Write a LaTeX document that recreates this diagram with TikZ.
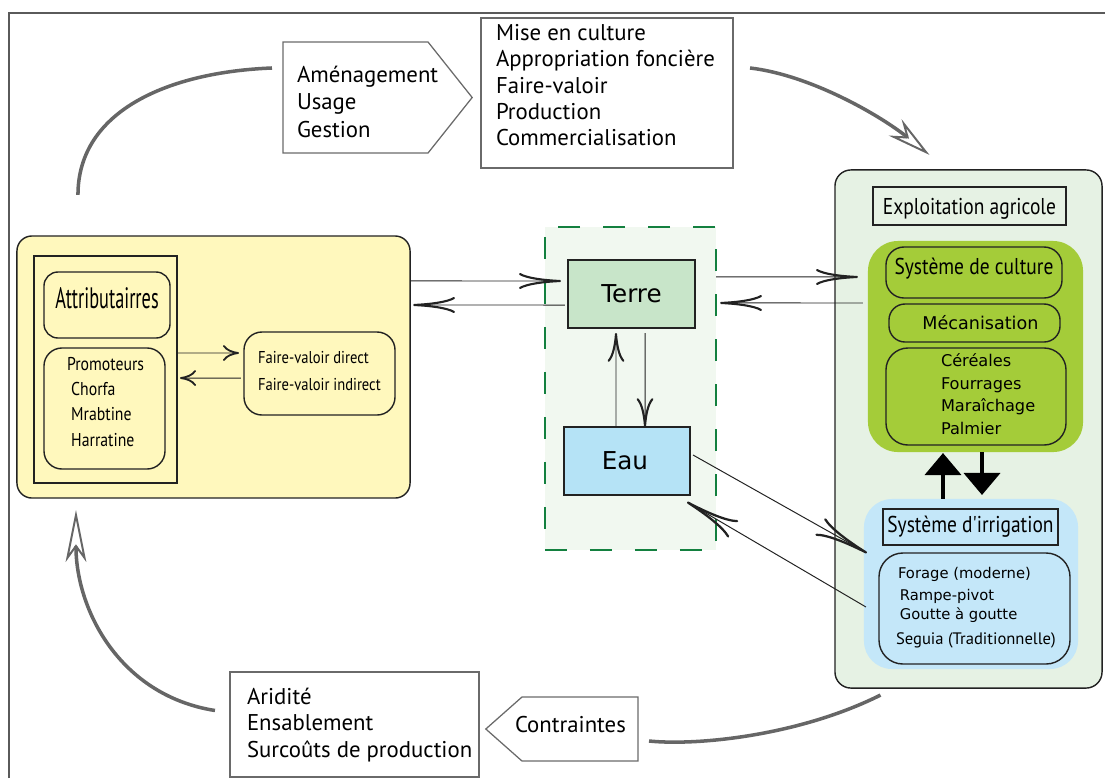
\documentclass[tikz,border=0pt]{standalone}
\usepackage{fontspec}
\setmainfont{PT Sans}
\newfontfamily\condfont[FakeStretch=0.85]{PT Sans}
\newfontfamily\narrowfont[FakeStretch=0.62]{PT Sans}
\newfontfamily\verafont{DejaVu Sans}
\usepackage{xcolor}
\usetikzlibrary{arrows.meta,positioning,shapes.symbols}

\definecolor{framegray}{HTML}{5A5A5A}
\definecolor{boxgray}{HTML}{6A6A6A}
\definecolor{cyclegray}{HTML}{666666}
\definecolor{acteurfill}{HTML}{FFF8BD}
\definecolor{terrefill}{HTML}{C8E5C9}
\definecolor{eaufill}{HTML}{B5E3F6}
\definecolor{foncierfill}{HTML}{F1F8F0}
\definecolor{foncierdash}{HTML}{13803F}
\definecolor{exploitfill}{HTML}{E6F2E4}
\definecolor{culturefill}{HTML}{A4CC39}
\definecolor{irrigfill}{HTML}{C4E7F9}
\definecolor{inkblack}{HTML}{222222}

\begin{document}
\begin{tikzpicture}[x=0.025cm,y=-0.025cm,
  every node/.style={inner sep=0pt, outer sep=0pt},
  plainbox/.style={draw=boxgray, line width=0.9pt},
  roundbox/.style={draw=inkblack, line width=1pt, rounded corners=#1},
  roundbox/.default=0.35cm,
  pentagon/.style={plainbox, shape=signal, minimum height=#1},
  listtext/.style={anchor=north west, align=left},
  cycleline/.style={draw=cyclegray, line width=2.5pt},
  cyclehead/.style={-{Stealth[open, length=#1, width=0.52cm, inset=0.36cm, line width=1.4pt]}},
  longflow/.style={draw=inkblack, line width=0.7pt, -{Computer Modern Rightarrow[length=1.05cm, width=0.4cm, line width=1.5pt]}},
  shortflow/.style={draw=inkblack, line width=0.7pt, -{Computer Modern Rightarrow[length=0.4cm, width=0.4cm, line width=1.3pt]}},
  vflow/.style={draw=inkblack, line width=0.7pt, -{Computer Modern Rightarrow[length=0.72cm, width=0.42cm, line width=1.5pt]}},
  diagflow/.style={draw=inkblack, line width=0.7pt, -{Computer Modern Rightarrow[length=1.35cm, width=0.5cm, line width=1.6pt]}},
  bigflow/.style={draw=black, line width=2.8pt, -{Triangle[length=0.55cm, width=0.9cm]}}]

  \useasboundingbox (0,0) rectangle (1105,778);
  \draw[framegray, line width=1.4pt] (9,778) -- (9,13) -- (1105,13);

  % labels of the cycle
  \node[pentagon=2.775cm, signal to=east, signal pointer angle=103, text width=3.625cm] (amen) at (355.5,97.5) {};
  \node[listtext, font=\fontsize{16.2}{19.6}\selectfont] (amentxt) at (297,66) {Aménagement\\Usage\\Gestion};
  \node[plainbox, minimum width=6.3cm, minimum height=3.75cm] (mise) at (607,93) {};
  \node[listtext, font=\fontsize{16.2}{18.8}\selectfont] (misetxt) at (496,24) {Mise en culture\\Appropriation foncière\\Faire-valoir\\Production\\Commercialisation};
  \node[plainbox, minimum width=6.225cm, minimum height=2.625cm] (arid) at (354.5,724.5) {};
  \node[listtext, font=\fontsize{16.2}{18.9}\selectfont] (aridtxt) at (247,688) {Aridité\\Ensablement\\Surcoûts de production};
  \node[pentagon=1.6cm, signal to=west, signal pointer angle=83, text width=2.9cm] (contr) at (580,729) {};
  \node[anchor=west, font=\fontsize{16.2}{19}\selectfont] (contrtxt) at (515,725) {Contraintes};

  % acteurs
  \node[roundbox=0.375cm, fill=acteurfill, minimum width=9.825cm, minimum height=6.55cm] (acteurs) at (213.5,367) {};
  \node[draw=inkblack, line width=1pt, minimum width=3.575cm, minimum height=5.675cm] (groupe) at (105.5,369.5) {};
  \node[roundbox=0.35cm, minimum width=3.15cm, minimum height=1.65cm, text depth=0.33cm, font=\narrowfont\fontsize{21}{24}\selectfont] (attrib) at (107,305) {Attributairres};
  \node[roundbox=0.45cm, minimum width=3.025cm, minimum height=3.025cm] (promo) at (104.5,408.5) {};
  \node[listtext, font=\condfont\fontsize{13.2}{18}\selectfont] (promotxt) at (67,357) {Promoteurs\\\hspace*{3pt}Chorfa\\\hspace*{3pt}Mrabtine\\\hspace*{3pt}Harratine};
  \node[roundbox=0.45cm, minimum width=3.775cm, minimum height=2.075cm] (fvaloir) at (319.5,373.5) {};
  \node[listtext, font=\condfont\fontsize{12.2}{19.2}\selectfont] (fvtxt) at (258,351) {Faire-valoir direct\\Faire-valoir indirect};

  % terre et eau
  \node[draw=foncierdash, fill=foncierfill, line width=1.4pt, dash pattern=on 15.5pt off 16.5pt, minimum width=4.275cm, minimum height=8.075cm] (foncier) at (630.5,388.5) {};
  \node[draw=inkblack, line width=1pt, fill=terrefill, minimum width=3.175cm, minimum height=1.7cm, font=\verafont\fontsize{17.5}{20}\selectfont] (terre) at (631.5,294) {Terre};
  \node[draw=inkblack, line width=1pt, fill=eaufill, minimum width=3.15cm, minimum height=1.7cm, font=\verafont\fontsize{17.5}{20}\selectfont] (eau) at (627,461) {\hspace*{-3pt}Eau};

  % exploitation
  \node[roundbox=0.4cm, fill=exploitfill, minimum width=6.675cm, minimum height=12.95cm] (exploit) at (968.5,429) {};
  \node[draw=inkblack, line width=1pt, minimum width=4.825cm, minimum height=0.95cm, text depth=0pt, font=\condfont\fontsize{16.3}{19}\selectfont] (exptitre) at (969.5,206) {Exploitation agricole};
  \node[fill=culturefill, rounded corners=0.75cm, minimum width=5.375cm, minimum height=5.275cm] (culture) at (975.5,346.5) {};
  \node[roundbox=0.45cm, minimum width=4.4cm, minimum height=1.275cm, text depth=0.29cm, font=\condfont\fontsize{16.3}{19}\selectfont] (syscult) at (974,272.5) {Système de culture};
  \node[roundbox=0.4cm, minimum width=4.275cm, minimum height=0.95cm, font=\verafont\fontsize{12.5}{15}\selectfont] (meca) at (974.5,323) {\hspace*{8.5pt}Mécanisation};
  \node[roundbox=0.55cm, minimum width=4.5cm, minimum height=2.425cm] (cereales) at (976,396.5) {};
  \node[listtext, font=\verafont\fontsize{11.5}{15.9}\selectfont] (cerealestxt) at (941,354) {Céréales\\Fourrages\\Maraîchage\\Palmier};
  \node[fill=irrigfill, rounded corners=0.7cm, minimum width=5.35cm, minimum height=4.25cm] (irrig) at (971,584) {};
  \node[draw=inkblack, line width=1pt, minimum width=4.375cm, minimum height=0.9cm, font=\condfont\fontsize{16.3}{19}\selectfont] (irrtitre) at (970.5,527) {Système d'irrigation};
  \node[roundbox=0.6cm, minimum width=4.775cm, minimum height=2.775cm] (forage) at (974.5,608.5) {};
  \node[listtext, font=\verafont\fontsize{10.5}{13.5}\selectfont] (foragetxt) at (898,567) {Forage (moderne)\\[2.1pt]\hspace*{1.4pt}Rampe-pivot\\\hspace*{1.4pt}Goutte à goutte\\[4.3pt]{\rmfamily\fontsize{11.8}{13.5}\selectfont\hspace*{-1.4pt}Seguia (Traditionnelle)}};

  % flux
  \draw[longflow] ([yshift=2.15cm]acteurs.east) -- ([xshift=-0.175cm,yshift=0.325cm]terre.west);
  \draw[longflow] ([xshift=-0.075cm,yshift=-0.275cm]terre.west) -- ([xshift=0.075cm,yshift=1.55cm]acteurs.east);
  \draw[shortflow] ([yshift=0.4125cm]groupe.east) -- ([xshift=-0.125cm,yshift=0.5125cm]fvaloir.west);
  \draw[shortflow] ([xshift=-0.075cm,yshift=-0.1125cm]fvaloir.west) -- ([xshift=0.075cm,yshift=-0.2125cm]groupe.east);
  \draw[vflow] ([xshift=-0.275cm]eau.north) -- ([xshift=-0.3875cm,yshift=-0.125cm]terre.south);
  \draw[vflow] ([xshift=0.3375cm,yshift=-0.125cm]terre.south) -- ([xshift=0.45cm]eau.north);
  \draw[longflow] ([yshift=2.7875cm]foncier.east) -- ([xshift=-0.25cm,yshift=1.7375cm]culture.west);
  \draw[longflow] ([xshift=-0.125cm,yshift=1.0875cm]culture.west) -- ([xshift=0.1cm,yshift=2.1375cm]foncier.east);
  \draw[diagflow] ([xshift=0.075cm,yshift=0.15cm]eau.east) -- ([xshift=0.075cm,yshift=0.775cm]irrig.west);
  \draw[diagflow] ([xshift=0.05cm,yshift=-0.575cm]irrig.west) -- ([xshift=-0.075cm,yshift=-0.175cm]eau.south east);
  \draw[bigflow] ([xshift=-0.7cm]irrig.north) -- ([xshift=-0.8125cm,yshift=-0.025cm]culture.south);
  \draw[bigflow] ([xshift=0.1625cm]culture.south) -- ([xshift=0.275cm,yshift=0.1cm]irrig.north);

  % cycle
  \draw[cycleline] ([xshift=1.525cm,yshift=1.025cm]acteurs.north west) .. controls +(0,-85) and +(-102,4) .. ([xshift=-0.275cm,yshift=0.7375cm]amen.west);
  \draw[cycleline, cyclehead=1.1cm] ([xshift=0.425cm,yshift=0.625cm]mise.east) .. controls +(60,7) and +(-50,-40) .. ([xshift=-0.975cm,yshift=0.375cm]exploit.north);
  \draw[cycleline] ([xshift=-2.2cm,yshift=-0.175cm]exploit.south) .. controls +(-80,40) and +(50,5) .. ([xshift=0.275cm,yshift=-0.3cm]contr.east);
  \draw[cycleline, cyclehead=1.3cm] ([xshift=-0.375cm,yshift=0.35cm]arid.west) .. controls +(-95,-15) and +(0,100) .. ([xshift=1.475cm,yshift=-0.3cm]acteurs.south west);
\end{tikzpicture}
\end{document}
